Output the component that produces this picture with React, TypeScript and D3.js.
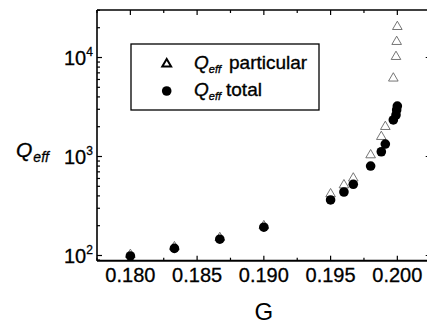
import * as d3 from "d3";

// Data
const gValues = [0.18, 0.1833, 0.1867, 0.19, 0.195, 0.196, 0.1967, 0.198, 0.1988, 0.1991, 0.1997, 0.1999, 0.19995, 0.2];
const qTotal = [99, 118, 146, 193, 364, 438, 524, 801, 1117, 1337, 2339, 2625, 2950, 3236];
const qParticular = [102, 122, 151, 199, 418, 515, 603, 1035, 1585, 2000, 6170, 10190, 14450, 20460];
const xTickLabels = ["0.180", "0.185", "0.190", "0.195", "0.200"];
const yDecades = [2, 3, 4];

const width = 427;
const height = 324;
const font = "'Liberation Sans', Arial, sans-serif";

export default function App() {
  const x = d3.scaleLinear().domain([0.1775, 0.2025]).range([97, 430.7]);
  const y = d3.scaleLog().domain([88.6, 30200]).range([260.7, 10]);

  const [x0, x1] = x.range();
  const [y0, y1] = y.range();

  // ticks every 0.0025 on the G axis, every other one is major
  const xTicks = d3.range(0, 11).map((i) => ({ v: 0.1775 + i * 0.0025, major: i % 2 === 1 }));
  const yTicks: { v: number; major: boolean }[] = [];
  [1, 2, 3, 4].forEach((e) => {
    for (let k = 1; k <= 9; k++) {
      const v = k * Math.pow(10, e);
      if (v >= 88.6 && v <= 30200) yTicks.push({ v, major: k === 1 });
    }
  });

  const tri = d3.symbol(d3.symbolTriangle, 40)()!;
  const triLegend = d3.symbol(d3.symbolTriangle, 34)()!;

  return (
    <svg width={width} height={height} style={{ position: "absolute", left: 0, top: 0, background: "#fff" }} fontFamily={font}>
      {/* particular: open triangles, drawn under the circles */}
      <g fill="white" stroke="#666" strokeWidth={0.9}>
        {gValues.map((g, i) => (
          <path key={i} d={tri} transform={`translate(${x(g)},${y(qParticular[i])})`} />
        ))}
      </g>
      <g fill="black">
        {gValues.map((g, i) => (
          <circle key={i} cx={x(g)} cy={y(qTotal[i])} r={4.8} />
        ))}
      </g>

      {/* frame */}
      <g stroke="black" strokeWidth={1.6} fill="none">
        <line x1={x0} x2={x1} y1={y0} y2={y0} strokeWidth={2} />
        <line x1={x0} x2={x1} y1={y1} y2={y1} />
        <line x1={x0} x2={x0} y1={y0} y2={y1} />
        <line x1={x1} x2={x1} y1={y0} y2={y1} />
      </g>
      <g stroke="black" strokeWidth={1.2}>
        {xTicks.map((t, i) => {
          const len = t.major ? 5 : 3;
          return (
            <g key={i}>
              <line x1={x(t.v)} x2={x(t.v)} y1={y0} y2={y0 - len} />
              <line x1={x(t.v)} x2={x(t.v)} y1={y1} y2={y1 + len} />
            </g>
          );
        })}
        {yTicks.map((t, i) => {
          const len = t.major ? 5 : 3;
          return (
            <g key={i}>
              <line x1={x0} x2={x0 + len} y1={y(t.v)} y2={y(t.v)} />
              <line x1={x1} x2={x1 - len} y1={y(t.v)} y2={y(t.v)} />
            </g>
          );
        })}
      </g>

      {/* tick labels */}
      <g fontSize={20} textAnchor="middle" stroke="black" strokeWidth={0.3}>
        {xTickLabels.map((s) => (
          <text key={s} x={x(+s)} y={282}>{s}</text>
        ))}
      </g>
      <g stroke="black" strokeWidth={0.3}>
        {yDecades.map((e) => (
          <text key={e} x={64} y={y(Math.pow(10, e)) + 7.2} fontSize={20}>
            10<tspan dy={-8.5} fontSize={12}>{e}</tspan>
          </text>
        ))}
      </g>

      {/* axis titles */}
      <text x={16} y={156.5} fontSize={21} fontStyle="italic" stroke="black" strokeWidth={0.3}>
        Q<tspan dx={1} dy={5.5} fontSize={14}>eff</tspan>
      </text>
      <text x={x(0.19)} y={320} fontSize={24} textAnchor="middle">G</text>

      {/* legend */}
      <rect x={131} y={44} width={188} height={66} fill="white" stroke="black" strokeWidth={1.3} />
      <path d={triLegend} transform="translate(166.7,64)" fill="white" stroke="black" strokeWidth={2} />
      <circle cx={166.7} cy={91} r={4.8} fill="black" />
      <g stroke="black" strokeWidth={0.35}>
        <text x={194} y={68.5} fontSize={19}>
          <tspan fontStyle="italic">Q</tspan>
          <tspan dy={4.5} fontSize={11} fontStyle="italic">eff</tspan>
          <tspan dy={-4.5} dx={8}>particular</tspan>
        </text>
        <text x={194} y={95.5} fontSize={19}>
          <tspan fontStyle="italic">Q</tspan>
          <tspan dy={4.5} fontSize={11} fontStyle="italic">eff</tspan>
          <tspan dy={-4.5} dx={5}>total</tspan>
        </text>
      </g>
    </svg>
  );
}
